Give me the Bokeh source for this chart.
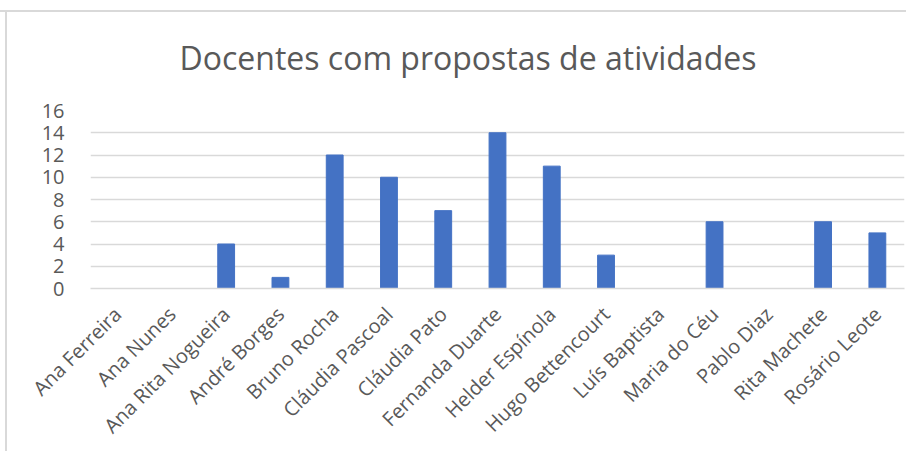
from math import pi
from bokeh.plotting import figure
from bokeh.models import FixedTicker, Range1d
from bokeh.embed import file_html
from bokeh.resources import INLINE

names = ["Ana Ferreira", "Ana Nunes", "Ana Rita Nogueira", "André Borges", "Bruno Rocha",
         "Cláudia Pascoal", "Cláudia Pato", "Fernanda Duarte", "Helder Espínola",
         "Hugo Bettencourt", "Luís Baptista", "Maria do Céu", "Pablo Diaz",
         "Rita Machete", "Rosário Leote"]
values = [0, 0, 4, 1, 12, 10, 7, 14, 11, 3, 0, 6, 0, 6, 5]
y_ticks = [0, 2, 4, 6, 8, 10, 12, 14, 16]
title_text = "Docentes com propostas de atividades"

FONT = "Open Sans"
TXT = "#595959"
GRID = "#d9d9d9"

p = figure(x_range=names, y_range=Range1d(0, 16), width=906, height=451,
           output_backend="svg", toolbar_location=None, title=title_text,
           min_border_left=90, min_border_right=2, min_border_top=110,
           min_border_bottom=162)

p.vbar(x=names, top=values, width=0.31, color="#4472C4")

p.title.align = "left"
p.title.offset = 89
p.title.text_font = FONT
p.title.text_font_size = "32px"
p.title.text_font_style = "normal"
p.title.text_color = TXT
p.title.standoff = 63

p.border_fill_color = None
p.background_fill_color = "white"
p.outline_line_color = None
p.xgrid.grid_line_color = None
p.ygrid.grid_line_color = GRID
p.ygrid.grid_line_width = 1.5
p.yaxis.ticker = FixedTicker(ticks=y_ticks)

for ax in (p.xaxis, p.yaxis):
    ax.axis_line_color = None
    ax.major_tick_line_color = None
    ax.minor_tick_line_color = None
    ax.major_label_text_font = FONT
    ax.major_label_text_color = TXT

p.xaxis.axis_line_color = GRID
p.xaxis.axis_line_width = 1.5
p.yaxis.major_label_text_font_size = "20px"
p.yaxis.major_label_standoff = 20
p.xaxis.major_label_text_font_size = "20px"
p.xaxis.major_label_orientation = pi / 4
p.xaxis.major_label_standoff = 16

# chart-area frame edges (top and left) drawn as CSS backgrounds behind the transparent border
p.styles = {
    "background-color": "white",
    "background-image": "linear-gradient(#d9d9d9, #d9d9d9), linear-gradient(#d9d9d9, #d9d9d9)",
    "background-size": "100% 2px, 2px 100%",
    "background-position": "0px 10px, 5px 10px",
    "background-repeat": "no-repeat",
    "overflow": "hidden",
}

open("out.html", "w").write(file_html(p, INLINE))
